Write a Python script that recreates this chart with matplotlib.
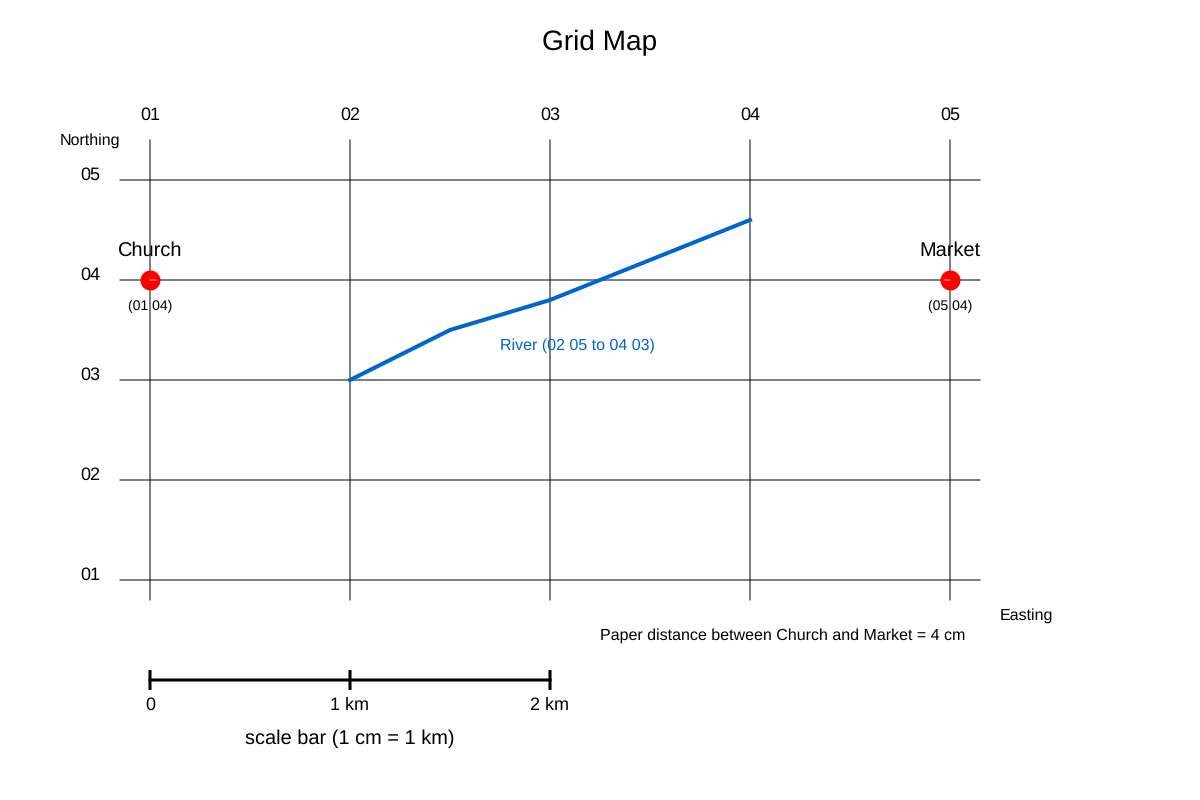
import matplotlib.pyplot as plt

plt.rcParams['font.family'] = ['Liberation Sans', 'DejaVu Sans']
plt.rcParams['text.hinting'] = 'no_hinting'
plt.rcParams['text.hinting_factor'] = 1

# grid labels
eastings = ['01', '02', '03', '04', '05']
northings = ['01', '02', '03', '04', '05']
easting_vals = [1, 2, 3, 4, 5]
northing_vals = [1, 2, 3, 4, 5]

# places
places = ['Church', 'Market']
place_e = [1, 5]
place_n = [4, 4]
place_refs = ['(01 04)', '(05 04)']
# side of the pale tick inside each marker
place_side = [1, -1]

# river
river_e = [2, 2.5, 3, 4]
river_n = [3, 3.5, 3.8, 4.6]

# scale bar
scale_km = [0, 1, 2]
scale_labels = ['0', '1 km', '2 km']

fig = plt.figure(figsize=(12, 8), dpi=100)
ax = fig.add_axes([0, 0, 1, 1])
# 1 grid unit = 200 px across, 100 px up
ax.set_xlim(1 - 150 / 200, 1 + 1050 / 200)
ax.set_ylim(1 - 220 / 100, 1 + 580 / 100)
ax.axis('off')

# grid
for e, lab in zip(easting_vals, eastings):
    ax.plot([e, e], [0.8, 5.4], color='black', lw=0.72, zorder=1, snap=False)
    ax.text(e, 5.67, lab, ha='center', va='center_baseline', fontsize=13)
for n, lab in zip(northing_vals, northings):
    ax.plot([0.85, 5.15], [n, n], color='black', lw=0.72, zorder=1, snap=False)
    ax.text(0.75, n + 0.07, lab, ha='right', va='center_baseline', fontsize=13)

ax.text(0.7, 5.41, 'Northing', ha='center', va='center_baseline', fontsize=11.5)
ax.text(5.25, 0.66, 'Easting', ha='left', va='center_baseline', fontsize=11.5)

# river
ax.plot(river_e, river_n, color='#0066cc', lw=2.9, solid_capstyle='projecting', zorder=2)
ax.text(3.135, 3.36, 'River (02 05 to 04 03)', color='#0066cc', ha='center',
        va='center_baseline', fontsize=11.5)

# places
dots = ax.scatter(place_e, place_n, s=207, color='#ff0000', linewidths=0, zorder=3)
dots.set_snap(False)
for name, e, n, ref, side in zip(places, place_e, place_n, place_refs, place_side):
    ax.plot([e, e + side * 0.03], [n, n], color='#ffaaaa', lw=0.72, zorder=4, snap=False)
    ax.text(e, n + 0.31, name, ha='center', va='center_baseline', fontsize=14.4)
    ax.text(e, n - 0.25, ref, ha='center', va='center_baseline', fontsize=10)

ax.text(3.25, 0.46, 'Paper distance between Church and Market = 4 cm',
        ha='left', va='center_baseline', fontsize=11.5)

# scale bar
bar_x = [k + 1 for k in scale_km]
ax.plot([bar_x[0], bar_x[-1]], [0, 0], color='black', lw=2.2, zorder=2, snap=False)
for x, lab in zip(bar_x, scale_labels):
    ax.plot([x, x], [-0.1, 0.1], color='black', lw=2.2, zorder=2, snap=False,
            solid_capstyle='butt')
    ax.text(x, -0.23, lab, ha='center', va='center_baseline', fontsize=13)
ax.text(2, -0.57, 'scale bar (1 cm = 1 km)', ha='center', va='center_baseline', fontsize=14.4)

ax.text(3.25, 6.4, 'Grid Map', ha='center', va='center_baseline', fontsize=20.2)

fig.savefig('out.png', dpi=100, facecolor='white')
